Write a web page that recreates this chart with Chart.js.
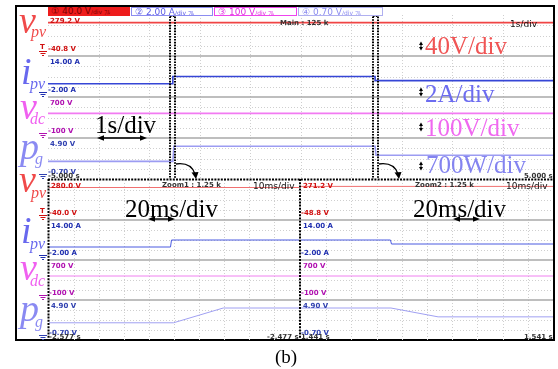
<!DOCTYPE html>
<html><head><meta charset="utf-8">
<script src="https://cdn.jsdelivr.net/npm/chart.js@4.4.1/dist/chart.umd.min.js"></script>
<style>
html,body{margin:0;padding:0;background:#fff;}
#wrap{position:relative;width:558px;height:369px;overflow:hidden;background:#fff;}
#frame{position:absolute;left:15px;top:5px;width:536px;height:332px;border:2px solid #000;}
canvas{position:absolute;display:block;}
.t{position:absolute;white-space:nowrap;line-height:1;}
.s{font:bold 7px "DejaVu Sans",sans-serif;}
.n{font:9px "DejaVu Sans",sans-serif;color:#111;}
.hd{position:absolute;top:7px;height:9px;box-sizing:border-box;font:9px "DejaVu Sans","Noto Sans CJK JP",sans-serif;line-height:8px;white-space:nowrap;overflow:hidden;padding-left:3px;}
.hd small{font-size:6px;}
.ch{font-family:"Liberation Serif",serif;font-style:italic;}
.an{font-family:"Liberation Serif",serif;font-size:25px;}
svg{position:absolute;left:0;top:0;}
</style></head>
<body><div id="wrap">
<div id="frame"></div>
<canvas id="cMain" width="505" height="164" style="left:48px;top:15px"></canvas>
<canvas id="cZoom1" width="250" height="160" style="left:49px;top:180px"></canvas>
<canvas id="cZoom2" width="252" height="160" style="left:301px;top:180px"></canvas>

<div class="hd" style="left:48px;width:82px;background:#ee1c1c;color:#7a0000">① 40.0 V<small>/div ﾌﾙ</small></div>
<div class="hd" style="left:131px;width:82px;border:1px solid #8c8cf0;color:#5c5ce8">② 2.00 A<small>/div ﾌﾙ</small></div>
<div class="hd" style="left:214px;width:83px;border:1px solid #ee44ee;color:#e030e0">③ 100 V<small>/div ﾌﾙ</small></div>
<div class="hd" style="left:298px;width:85px;border:1px solid #b0b0f0;color:#8c8cf0">④ 0.70 V<small>/div ﾌﾙ</small></div>

<svg id="ov" width="558" height="369">
 <g stroke="#000" stroke-width="2" stroke-dasharray="2,1.2" fill="none">
  <line x1="48" y1="179.5" x2="553" y2="179.5"/>
  <line x1="48.5" y1="179" x2="48.5" y2="340"/>
  <line x1="300" y1="179" x2="300" y2="340"/>
 </g>
 <g stroke="#000" stroke-width="1.4" fill="#000">
  <line x1="100" y1="138" x2="144" y2="138"/>
  <polygon points="97,138 104,135.3 104,140.7" stroke="none"/>
  <polygon points="147,138 140,135.3 140,140.7" stroke="none"/>
  <line x1="151" y1="219" x2="172" y2="219"/>
  <polygon points="148,219 155,216.3 155,221.7" stroke="none"/>
  <polygon points="175,219 168,216.3 168,221.7" stroke="none"/>
  <line x1="456" y1="219" x2="477" y2="219"/>
  <polygon points="453,219 460,216.3 460,221.7" stroke="none"/>
  <polygon points="480,219 473,216.3 473,221.7" stroke="none"/>
 </g>
 <g stroke="#000" stroke-width="1" fill="#000">
  <line x1="421" y1="43" x2="421" y2="49"/><polygon points="421,41.5 419,45 423,45" stroke="none"/><polygon points="421,50.5 419,47 423,47" stroke="none"/>
  <line x1="421" y1="89" x2="421" y2="95"/><polygon points="421,87.5 419,91 423,91" stroke="none"/><polygon points="421,96.5 419,93 423,93" stroke="none"/>
  <line x1="421" y1="124" x2="421" y2="130"/><polygon points="421,122.5 419,126 423,126" stroke="none"/><polygon points="421,131.5 419,128 423,128" stroke="none"/>
  <line x1="421" y1="163" x2="421" y2="169"/><polygon points="421,161.5 419,165 423,165" stroke="none"/><polygon points="421,170.5 419,167 423,167" stroke="none"/>
 </g>
 <g id="gnds" fill="none" stroke-width="1"></g>
</svg>

<div class="t ch" style="left:19px;top:1.3px;font-size:38px;color:#f04a4a">v</div>
<div class="t ch" style="left:31px;top:23.6px;font-size:16px;color:#f04a4a">pv</div>
<div class="t ch" style="left:21px;top:52.3px;font-size:38px;color:#6868ee">i</div>
<div class="t ch" style="left:30px;top:75.6px;font-size:16px;color:#6868ee">pv</div>
<div class="t ch" style="left:20px;top:87.3px;font-size:38px;color:#f060f0">v</div>
<div class="t ch" style="left:30px;top:110.6px;font-size:16px;color:#f060f0">dc</div>
<div class="t ch" style="left:20px;top:127.3px;font-size:38px;color:#8a8af2">p</div>
<div class="t ch" style="left:35px;top:150.6px;font-size:16px;color:#8a8af2">g</div>

<div class="t ch" style="left:19px;top:160.3px;font-size:38px;color:#f04a4a">v</div>
<div class="t ch" style="left:31px;top:184.6px;font-size:16px;color:#f04a4a">pv</div>
<div class="t ch" style="left:21px;top:211.3px;font-size:38px;color:#6868ee">i</div>
<div class="t ch" style="left:30px;top:235.6px;font-size:16px;color:#6868ee">pv</div>
<div class="t ch" style="left:20px;top:248.3px;font-size:38px;color:#f060f0">v</div>
<div class="t ch" style="left:30px;top:272.6px;font-size:16px;color:#f060f0">dc</div>
<div class="t ch" style="left:20px;top:289.3px;font-size:38px;color:#8a8af2">p</div>
<div class="t ch" style="left:35px;top:313.6px;font-size:16px;color:#8a8af2">g</div>

<div class="t an" style="left:425px;top:32.6px;color:#f05555">40V/div</div>
<div class="t an" style="left:425px;top:81px;color:#6c6cf0">2A/div</div>
<div class="t an" style="left:425px;top:115px;color:#f068f0">100V/div</div>
<div class="t an" style="left:426px;top:152px;color:#8484f0">700W/div</div>
<div class="t an" style="left:95px;top:112px;color:#000">1s/div</div>
<div class="t an" style="left:125px;top:196px;color:#000">20ms/div</div>
<div class="t an" style="left:413px;top:196px;color:#000">20ms/div</div>
<div class="t" style="left:275px;top:346px;font:19px 'Liberation Serif',serif;color:#000">(b)</div>

<div class="t s" style="left:280px;top:19px;color:#333">Main : 125 k</div>
<div class="t n" style="left:510px;top:19px">1s/div</div>
<div class="t s" style="left:162px;top:181px;color:#333">Zoom1 : 1.25 k</div>
<div class="t n" style="left:253px;top:181px">10ms/div</div>
<div class="t s" style="left:415px;top:181px;color:#333">Zoom2 : 1.25 k</div>
<div class="t n" style="left:506px;top:181px">10ms/div</div>
</div>

<script>
// ---- data ----
const CHANNELS = ['vpv', 'ipv', 'vdc', 'pg'];
const vpvTime  = [-5.0, 5.0];
const vpvVolts = [220, 220];
const ipvTime  = [-5.0, -2.5284, -2.5280, 1.4765, 1.4769, 5.0];
const ipvAmps  = [3.2, 3.2, 6.0, 6.0, 4.4, 4.4];
const vdcTime  = [-5.0, 5.0];
const vdcVolts = [380, 380];
const pgTime   = [-5.0, -2.5272, -2.5073, 1.4767, 1.4954, 5.0];
const pgVolts  = [1.71, 1.71, 3.78, 3.78, 2.54, 2.54];

const mainWindow  = [-5.0, 5.0];
const zoomWindows = [[-2.577, -2.477], [1.441, 1.541]];

const mainRanges  = {vpv: [-40.8, 279.2], ipv: [-2.0, 14.0], vdc: [-100, 700], pg: [-0.70, 4.90]};
const zoom1Ranges = {vpv: [-40.0, 280.0], ipv: [-2.0, 14.0], vdc: [-100, 700], pg: [-0.70, 4.90]};
const zoom2Ranges = {vpv: [-48.8, 271.2], ipv: [-2.0, 14.0], vdc: [-100, 700], pg: [-0.70, 4.90]};

const mainTickLabels  = ['279.2 V', '-40.8 V', '14.00 A', '-2.00 A', '700 V', '-100 V', '4.90 V', '-0.70 V'];
const zoom1TickLabels = ['280.0 V', '-40.0 V', '14.00 A', '-2.00 A', '700 V', '-100 V', '4.90 V', '-0.70 V'];
const zoom2TickLabels = ['271.2 V', '-48.8 V', '14.00 A', '-2.00 A', '700 V', '-100 V', '4.90 V', '-0.70 V'];
const mainTimeLabels  = ['-5.000 s', '5.000 s'];
const zoom1TimeLabels = ['-2.577 s', '-2.477 s'];
const zoom2TimeLabels = ['1.441 s', '1.541 s'];

// ---- styles ----
const traceColors = {vpv: '#f04444', ipv: '#3646d6', vdc: '#f27af2', pg: '#9c9cf2'};
const zoomTraceColors = {vpv: '#f07070', ipv: '#4a5ae0', vdc: '#f080f0', pg: '#a0a0f2'};
const labelColors = {vpv: '#d01010', ipv: '#2030b0', vdc: '#b010b0', pg: '#3040b0'};

function series(t, v) { return t.map((x, i) => ({x: x, y: v[i]})); }

const gridPlugin = {
  id: 'scopeGrid',
  beforeDatasetsDraw(chart) {
    const {ctx, chartArea: a, scales} = chart;
    const xs = scales.x;
    ctx.save();
    ctx.lineWidth = 1;
    ctx.strokeStyle = '#cfcfcf';
    ctx.setLineDash([1, 2]);
    for (let i = 1; i < 10; i++) {
      const px = Math.round(xs.getPixelForValue(xs.min + (xs.max - xs.min) * i / 10)) + 0.5;
      ctx.beginPath(); ctx.moveTo(px, a.top); ctx.lineTo(px, a.bottom); ctx.stroke();
    }
    CHANNELS.forEach(k => {
      const s = scales['y_' + k];
      for (let j = 1; j < 4; j++) {
        const py = Math.round(s.getPixelForValue(s.min + (s.max - s.min) * j / 4)) + 0.5;
        ctx.beginPath(); ctx.moveTo(a.left, py); ctx.lineTo(a.right, py); ctx.stroke();
      }
    });
    ctx.setLineDash([]);
    ctx.strokeStyle = '#a8a8a8';
    ctx.lineWidth = 1.5;
    CHANNELS.slice(0, 3).forEach(k => {
      const py = Math.round(scales['y_' + k].bottom);
      ctx.beginPath(); ctx.moveTo(a.left, py); ctx.lineTo(a.right, py); ctx.stroke();
    });
    ctx.restore();
  }
};

const zoomMarkPlugin = {
  id: 'zoomMarks',
  afterDatasetsDraw(chart) {
    const {ctx, chartArea: a, scales: {x}} = chart;
    ctx.save();
    zoomWindows.forEach(w => {
      const x1 = Math.round(x.getPixelForValue(w[0])), x2 = Math.round(x.getPixelForValue(w[1]));
      ctx.strokeStyle = '#000'; ctx.lineWidth = 2; ctx.setLineDash([1.6, 1.2]);
      ctx.strokeRect(x1, a.top + 1, x2 - x1, a.bottom - a.top);
      ctx.setLineDash([]); ctx.lineWidth = 1.3; ctx.fillStyle = '#000';
      ctx.beginPath(); ctx.moveTo(x2 + 1, a.bottom - 15);
      ctx.quadraticCurveTo(x2 + 16, a.bottom - 17, x2 + 20, a.bottom - 5); ctx.stroke();
      ctx.beginPath(); ctx.moveTo(x2 + 21, a.bottom); ctx.lineTo(x2 + 16.5, a.bottom - 6.5);
      ctx.lineTo(x2 + 23.5, a.bottom - 7); ctx.closePath(); ctx.fill();
    });
    ctx.restore();
  }
};

function buildScope(canvasId, xWin, ranges, colors, width, extra) {
  const noAxis = {ticks: {display: false}, grid: {display: false, drawTicks: false}, border: {display: false}};
  const scales = {x: Object.assign({type: 'linear', min: xWin[0], max: xWin[1]}, noAxis)};
  CHANNELS.forEach((k, i) => {
    scales['y_' + k] = Object.assign({type: 'linear', position: 'left', stack: 'scope', stackWeight: 1,
      weight: 10 - i, min: ranges[k][0], max: ranges[k][1]}, noAxis);
  });
  const sets = [
    ['vpv', vpvTime, vpvVolts], ['ipv', ipvTime, ipvAmps], ['vdc', vdcTime, vdcVolts], ['pg', pgTime, pgVolts]
  ];
  const datasets = sets.map(([k, t, v]) => ({
    label: k, data: series(t, v), yAxisID: 'y_' + k, borderColor: colors[k],
    borderWidth: width, pointRadius: 0, tension: 0, fill: false
  }));
  return new Chart(document.getElementById(canvasId), {
    type: 'line',
    data: {datasets},
    options: {
      responsive: false, animation: false, events: [],
      layout: {padding: 0},
      plugins: {legend: {display: false}, tooltip: {enabled: false}, title: {display: false}},
      scales
    },
    plugins: [gridPlugin].concat(extra)
  });
}

const wrap = document.getElementById('wrap');
function addText(txt, x, y, color, cls) {
  const d = document.createElement('div');
  d.className = 't ' + cls; d.textContent = txt;
  d.style.left = x + 'px'; d.style.top = y + 'px'; d.style.color = color;
  wrap.appendChild(d); return d;
}
function placeLabels(chart, canvasId, labels, timeLabels) {
  const c = document.getElementById(canvasId);
  const L = c.offsetLeft, T = c.offsetTop;
  CHANNELS.forEach((k, i) => {
    const s = chart.scales['y_' + k];
    addText(labels[2 * i], L + 2, T + s.top + 2, labelColors[k], 's');
    addText(labels[2 * i + 1], L, T + s.bottom - 11, labelColors[k], 's');
  });
  const a = chart.chartArea;
  addText(timeLabels[0], L, T + a.bottom - 7, '#333', 's');
  const r = addText(timeLabels[1], 0, T + a.bottom - 7, '#333', 's');
  r.style.left = (L + a.right - r.offsetWidth) + 'px';
  const g = document.getElementById('gnds');
  CHANNELS.forEach(k => {
    if (L > 100) return;
    const s = chart.scales['y_' + k];
    const y = Math.round(T + s.bottom - 5) + 0.5;
    const col = labelColors[k];
    g.insertAdjacentHTML('beforeend',
      `<line x1="39" y1="${y}" x2="47" y2="${y}" stroke="${col}"/>` +
      `<line x1="40.5" y1="${y + 2}" x2="45.5" y2="${y + 2}" stroke="${col}"/>` +
      `<line x1="42" y1="${y + 4}" x2="44" y2="${y + 4}" stroke="${col}"/>`);
    if (k === 'vpv') addText('T', 40, y - 9, col, 's');
  });
}

const mainChart  = buildScope('cMain', mainWindow, mainRanges, traceColors, 1.6, [zoomMarkPlugin]);
const zoom1Chart = buildScope('cZoom1', zoomWindows[0], zoom1Ranges, zoomTraceColors, 1, []);
const zoom2Chart = buildScope('cZoom2', zoomWindows[1], zoom2Ranges, zoomTraceColors, 1, []);
placeLabels(mainChart, 'cMain', mainTickLabels, mainTimeLabels);
placeLabels(zoom1Chart, 'cZoom1', zoom1TickLabels, zoom1TimeLabels);
placeLabels(zoom2Chart, 'cZoom2', zoom2TickLabels, zoom2TimeLabels);
</script>
</body></html>
